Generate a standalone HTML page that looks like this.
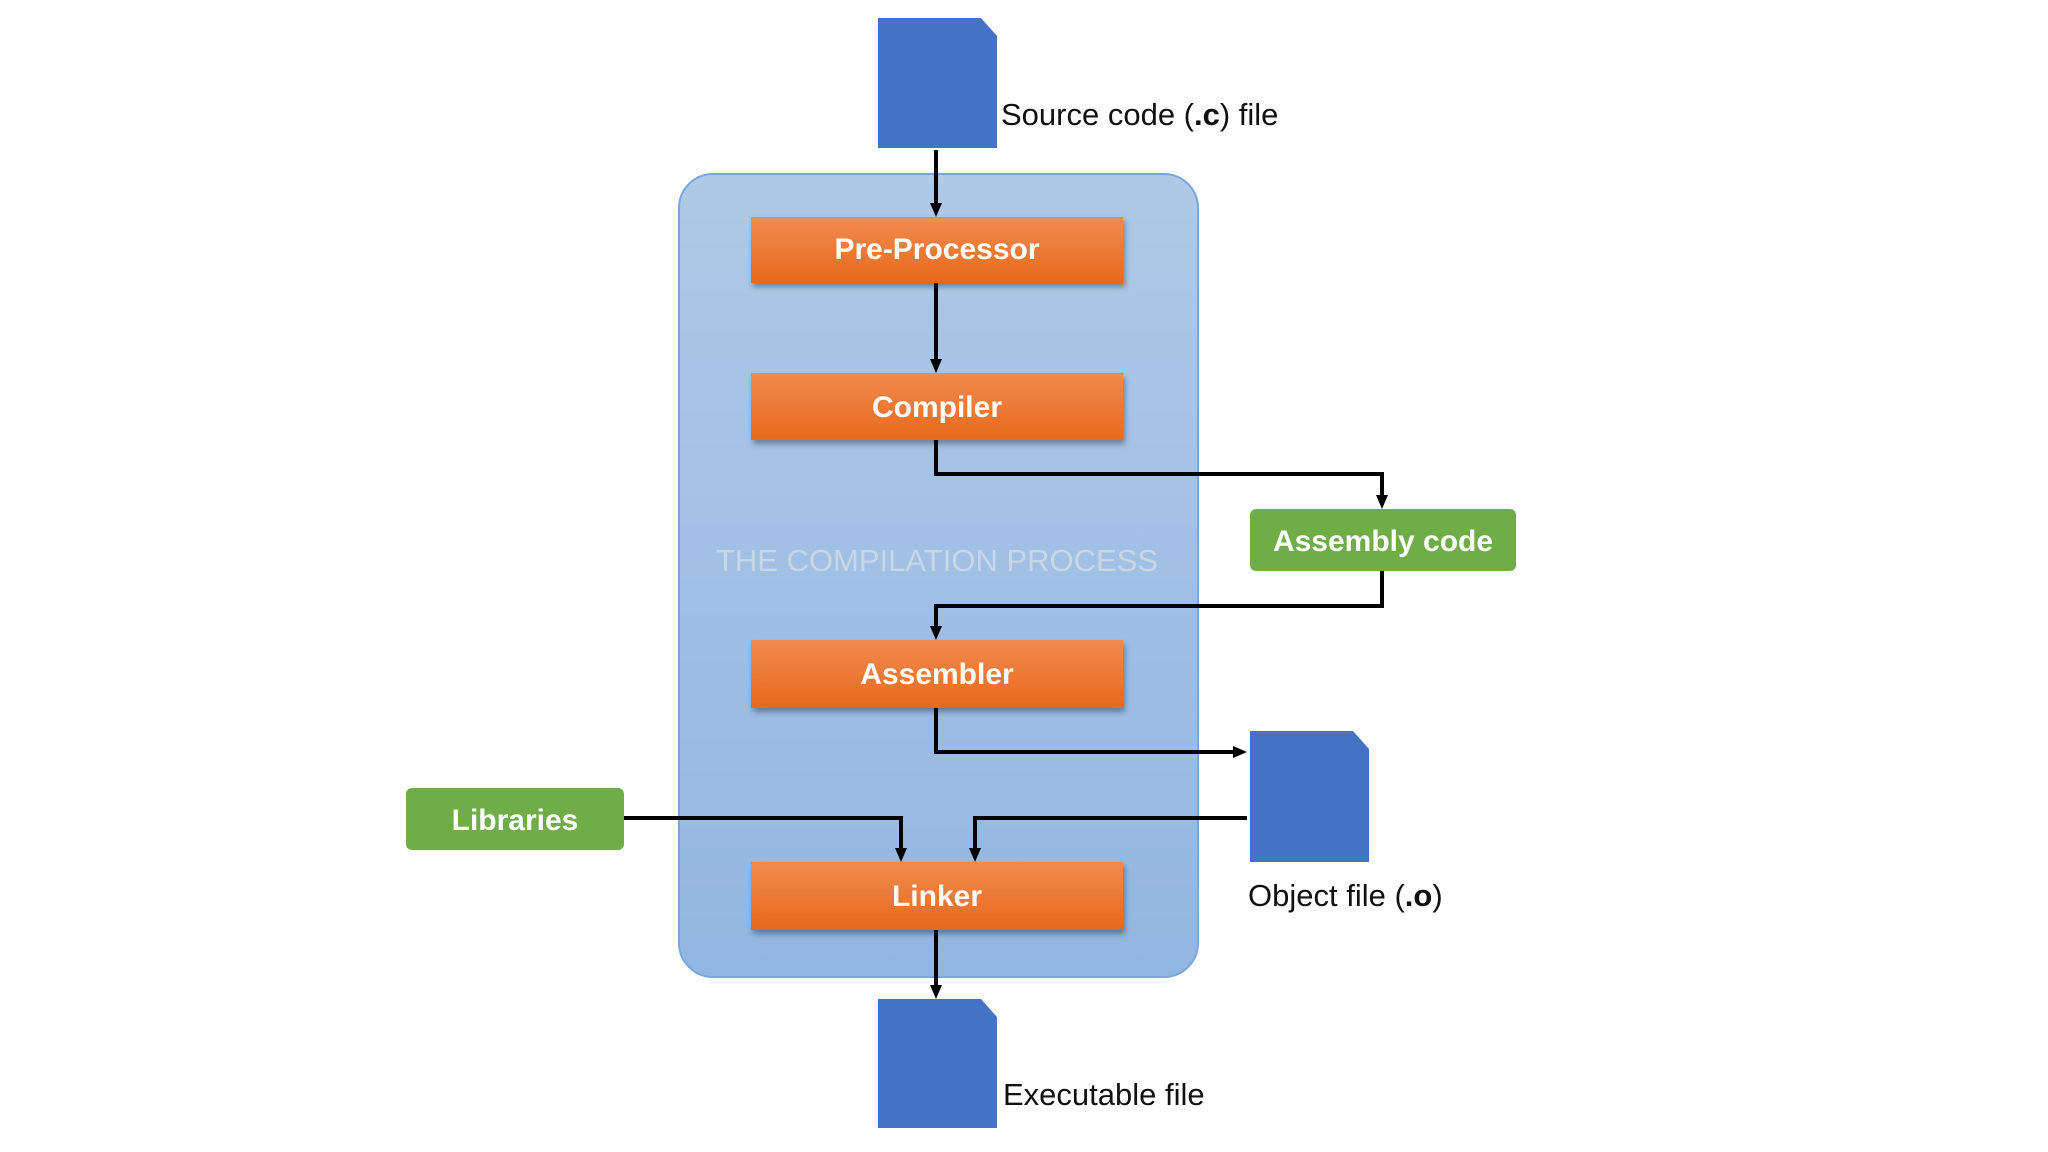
<!DOCTYPE html>
<html><head><meta charset="utf-8"><style>
body{margin:0;background:#fff;}
svg{display:block}
</style></head><body>
<svg width="2048" height="1152" viewBox="0 0 2048 1152" xmlns="http://www.w3.org/2000/svg">
<defs>
<linearGradient id="og" x1="0" y1="0" x2="0" y2="1">
<stop offset="0" stop-color="#f18b4f"/><stop offset="1" stop-color="#e8691c"/></linearGradient>
<linearGradient id="bg" x1="0" y1="0" x2="0" y2="1">
<stop offset="0" stop-color="#afc9e7"/><stop offset="1" stop-color="#92b6e2"/></linearGradient>
<marker id="a" markerWidth="14" markerHeight="14" refX="9" refY="7" orient="auto" markerUnits="userSpaceOnUse" viewBox="0 0 14 14">
<path d="M0,1 L14,7 L0,13 z" fill="#000"/></marker>
<filter id="sh" x="-5%" y="-10%" width="110%" height="130%"><feDropShadow dx="2" dy="4" stdDeviation="3" flood-color="#000" flood-opacity="0.35"/></filter>
</defs>
<rect x="679" y="174" width="519" height="803" rx="34" fill="url(#bg)" stroke="#7aa6dc" stroke-width="2"/>
<text x="937" y="571" text-anchor="middle" font-family="Liberation Sans, sans-serif" font-size="31" fill="#c9d6e6">THE COMPILATION PROCESS</text>
<path d="M878,18 H981 L997,36 V148 H878 Z" fill="#4472c4"/>
<path d="M1250,731 H1353 L1369,749 V862 H1250 Z" fill="#4472c4"/>
<path d="M878,999 H981 L997,1017 V1128 H878 Z" fill="#4472c4"/>
<g font-family="Liberation Sans, sans-serif" font-size="31" fill="#111">
<text x="1001" y="125">Source code (<tspan font-weight="bold">.c</tspan>) file</text>
<text x="1248" y="906">Object file (<tspan font-weight="bold">.o</tspan>)</text>
<text x="1003" y="1105">Executable file</text>
</g>
<g stroke="#000" stroke-width="4" fill="none" marker-end="url(#a)">
<path d="M936,150 V212"/>
<path d="M936,283 V368"/>
<path d="M936,440 V474 H1382 V504"/>
<path d="M1382,571 V606 H936 V635"/>
<path d="M936,708 V752 H1242"/>
<path d="M624,818 H901 V857"/>
<path d="M1247,818 H975 V857"/>
<path d="M936,930 V994"/>
</g>
<g filter="url(#sh)">
<rect x="751" y="217" width="372" height="66" fill="url(#og)"/>
<rect x="751" y="373" width="372" height="67" fill="url(#og)"/>
<rect x="751" y="640" width="372" height="68" fill="url(#og)"/>
<rect x="751" y="862" width="372" height="68" fill="url(#og)"/>
</g>
<rect x="1250" y="509" width="266" height="62" rx="6" fill="#70ad47"/>
<rect x="406" y="788" width="218" height="62" rx="6" fill="#70ad47"/>
<g font-family="Liberation Sans, sans-serif" font-size="30" font-weight="bold" fill="#fff" text-anchor="middle">
<text x="937" y="259">Pre-Processor</text>
<text x="937" y="417">Compiler</text>
<text x="937" y="684">Assembler</text>
<text x="937" y="906">Linker</text>
<text x="1383" y="551">Assembly code</text>
<text x="515" y="830">Libraries</text>
</g>
</svg>
</body></html>
